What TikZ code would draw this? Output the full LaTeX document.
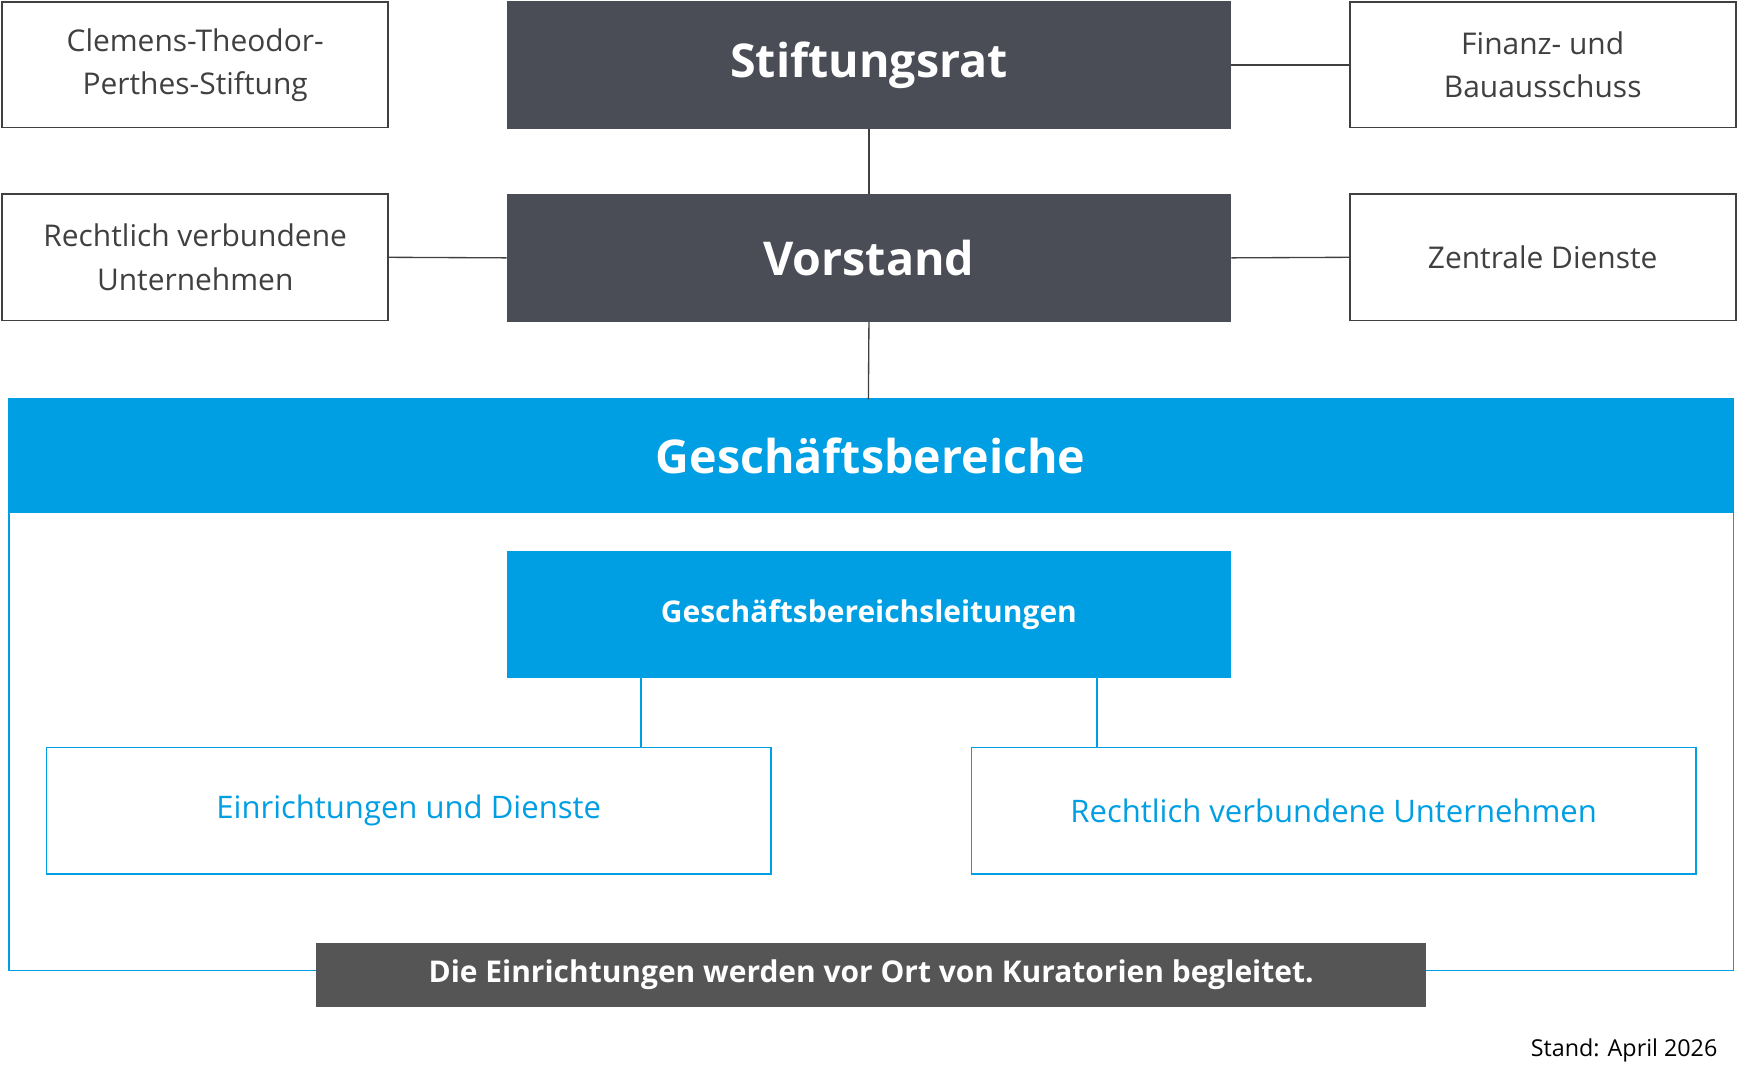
\documentclass[tikz,border=0pt]{standalone}
\usepackage{fontspec}
\setmainfont{Open Sans}
\definecolor{dark}{HTML}{4A4D55}
\definecolor{blu}{HTML}{009FE3}
\definecolor{bar}{HTML}{555555}
\definecolor{txt}{HTML}{404040}
\begin{document}
\begin{tikzpicture}[x=1pt,y=-1pt,
  wbox/.style={draw=txt,line width=1.5pt,fill=white,text=txt,font=\fontsize{27}{39}\selectfont,align=center},
  dbox/.style={fill=dark,text=white,font=\fontsize{42}{50}\selectfont\bfseries},
  bbox/.style={draw=blu,line width=1.5pt,fill=white,text=blu,font=\fontsize{28}{34}\selectfont},
  ln/.style={draw=txt,line width=1.2pt}]
\useasboundingbox (0,0) rectangle (1568,974);
\draw[blu,line width=1.5pt] (8,360) rectangle (1563,875);
\fill[blu] (8,360) rectangle (1563,463);
\node[text=white,font=\fontsize{42}{50}\selectfont\bfseries] (gb) at (785,411) {Geschäftsbereiche};
\coordinate (gbtop) at (783,360);
\node[wbox,minimum width=348pt,minimum height=113pt] (cl) at (176,58.5) {Clemens-Theodor-\\Perthes-Stiftung};
\node[dbox,minimum width=653pt,minimum height=115pt] (sr) at (783.5,58.5) {Stiftungsrat};
\node[wbox,minimum width=348pt,minimum height=113pt] (fb) at (1391,58.5) {Finanz- und\\Bauausschuss};
\node[wbox,minimum width=348pt,minimum height=114pt] (rv) at (176,232) {Rechtlich verbundene\\Unternehmen};
\node[dbox,minimum width=653pt,minimum height=115pt] (vs) at (783.5,232.5) {Vorstand};
\node[wbox,minimum width=348pt,minimum height=114pt] (zd) at (1391,232) {Zentrale Dienste};
\draw[ln] (sr.east) -- (fb.west);
\draw[ln] (sr.south) -- (vs.north);
\draw[ln] (rv.east) -- (vs.west);
\draw[ln] (vs.east) -- (zd.west);
\draw[ln] (vs.south) -- (gbtop);
\node[fill=blu,text=white,minimum width=653pt,minimum height=114pt,font=\fontsize{27}{32}\selectfont\bfseries] (gbl) at (783.5,554) {Geschäftsbereichsleitungen};
\node[bbox,minimum width=653pt,minimum height=114pt] (ed) at (368.5,731) {Einrichtungen und Dienste};
\node[bbox,minimum width=653pt,minimum height=114pt] (ru) at (1202.5,731) {Rechtlich verbundene Unternehmen};
\draw[blu,line width=1.5pt] (578,611) -- (578,674);
\draw[blu,line width=1.5pt] (989,611) -- (989,674);
\node[fill=bar,text=white,minimum width=1001pt,minimum height=58pt,font=\fontsize{27}{32}\selectfont\bfseries] (kb) at (785.5,879) {Die Einrichtungen werden vor Ort von Kuratorien begleitet.};
\node[anchor=east,font=\fontsize{21}{25}\selectfont,text=black] (st) at (1552,947) {Stand: April 2026};
\end{tikzpicture}
\end{document}
